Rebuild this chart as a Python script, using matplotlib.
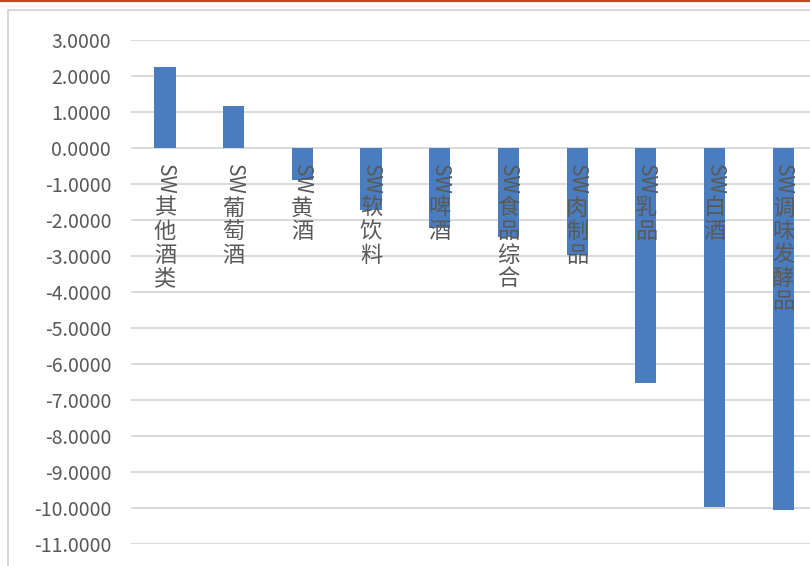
import matplotlib
matplotlib.use("Agg")
import matplotlib.pyplot as plt
from matplotlib.lines import Line2D

plt.rcParams['font.family'] = ['Noto Sans CJK SC', 'DejaVu Sans']

# Industry names (SW prefix + Chinese name) and values
prefix = "SW"
names = ["其他酒类", "葡萄酒", "黄酒", "软饮料", "啤酒",
         "食品综合", "肉制品", "乳品", "白酒", "调味发酵品"]
values = [2.26, 1.17, -0.89, -1.72, -2.22, -2.47, -2.97, -6.53, -9.97, -10.06]
yticks = list(range(3, -12, -1))

W, H, DPI = 810, 566, 100
fig = plt.figure(figsize=(W / DPI, H / DPI), dpi=DPI)

# axes: y=3 at 40px, y=-11 at 544px; category 0 centre at 165px, pitch ~68.7px
left = 130.6 / W
width = 687.0 / W
bottom = 1 - 544 / H
top = 1 - 40 / H
ax = fig.add_axes([left, bottom, width, top - bottom])

x = list(range(len(values)))
ax.bar(x, values, width=0.31, color='#4A7DBF', zorder=2)

ax.set_xlim(-0.5, len(values) - 0.5)
ax.set_ylim(-11, 3)
ax.set_yticks(yticks)
ax.set_yticklabels([f"{v:.4f}" for v in yticks])
ax.set_xticks([])
ax.tick_params(axis='y', length=0, pad=14, labelsize=14, labelcolor='#595959')
for s in ax.spines.values():
    s.set_visible(False)
ax.grid(axis='y', color='#D9D9D9', linewidth=1.4, zorder=0)
ax.set_axisbelow(True)

# vertical category labels: "SW" rotated, CJK chars stacked upright
for i, name in enumerate(names):
    ax.annotate(prefix, xy=(i, 0), xytext=(0, -31.5), textcoords='offset pixels',
                rotation=-90, ha='center', va='center', fontsize=15,
                color='#595959', zorder=3)
    for k, ch in enumerate(name):
        ax.annotate(ch, xy=(i, 0), xytext=(0, -(60 + 23.5 * k)),
                    textcoords='offset pixels', ha='center', va='center',
                    fontsize=16, color='#595959', zorder=3)

# chart frame: orange rule at top, light grey border
fig.add_artist(Line2D([0, 1], [1 - 1 / H, 1 - 1 / H], color='#C4461C',
                      linewidth=1.6, transform=fig.transFigure))
fig.add_artist(Line2D([7.5 / W, 7.5 / W, 1], [0, 1 - 9.5 / H, 1 - 9.5 / H],
                      color='#D4D4D4', linewidth=1.3, transform=fig.transFigure))

fig.savefig("out.png", dpi=DPI, facecolor='white')
